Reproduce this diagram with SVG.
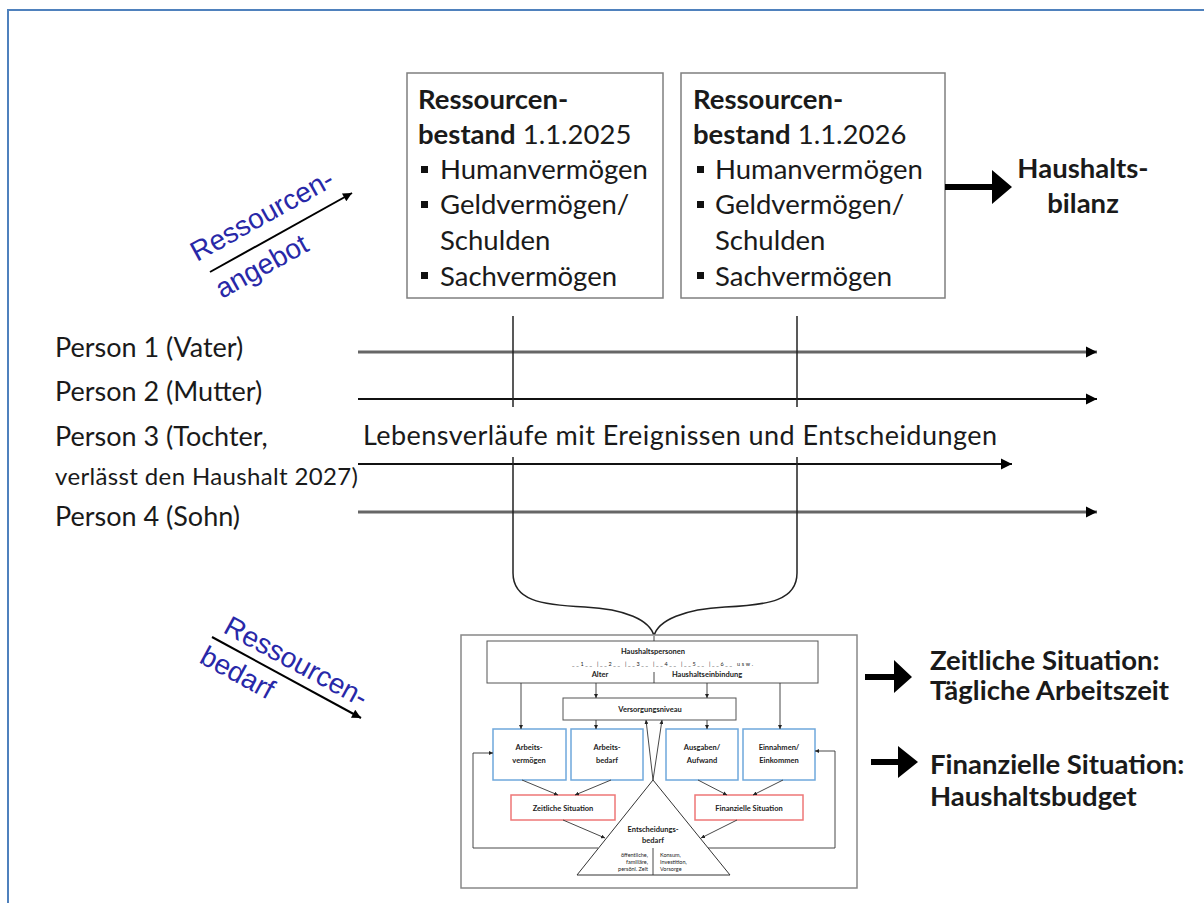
<svg xmlns="http://www.w3.org/2000/svg" width="1204" height="903" viewBox="0 0 1204 903">
<style>
.t{font-family:Lato,"Open Sans",sans-serif;fill:#1a1a1a;}
.b{font-weight:bold;}
.box{fill:#fff;stroke:#7f7f7f;stroke-width:1.5;}
.blue{font-family:"Liberation Sans",Arial,sans-serif;fill:#2828a8;font-size:28px;}
.lifeA{stroke:#666;stroke-width:3;fill:none;}
.lifeB{stroke:#111;stroke-width:2;fill:none;}
.vl{stroke:#222;stroke-width:1.5;fill:none;}
.sm{font-family:Lato,"Open Sans",sans-serif;font-weight:bold;font-size:7.5px;fill:#222;text-anchor:middle;}
.xs{font-family:Lato,"Open Sans",sans-serif;font-size:5.5px;fill:#222;}
.ib{fill:#fff;stroke:#555;stroke-width:1;}
.bb{fill:#fff;stroke:#6fa8dc;stroke-width:1.5;}
.rb{fill:#fff;stroke:#ee7777;stroke-width:1.5;}
.il{stroke:#333;stroke-width:0.9;fill:none;}
.thick{fill:#000;}
</style>
<defs>
<marker id="ah" viewBox="0 0 10 10" refX="10" refY="5" markerUnits="userSpaceOnUse" markerWidth="11" markerHeight="12" orient="auto"><path d="M0,0 L10,5 L0,10 z" fill="#000"/></marker>
<marker id="ahs" viewBox="0 0 10 10" refX="10" refY="5" markerUnits="userSpaceOnUse" markerWidth="4" markerHeight="4" orient="auto"><path d="M0,0 L10,5 L0,10 z" fill="#222"/></marker>
<marker id="ahm" viewBox="0 0 10 10" refX="10" refY="5" markerUnits="userSpaceOnUse" markerWidth="11" markerHeight="9" orient="auto"><path d="M0,0 L10,5 L0,10 z" fill="#000"/></marker>
</defs>
<rect x="0" y="0" width="1204" height="903" fill="#fff"/>
<rect x="8" y="10" width="1230" height="930" fill="none" stroke="#4f81bd" stroke-width="2"/>

<g id="box2025">
<rect class="box" x="407" y="73" width="256" height="225"/>
<text class="t" font-size="27.5"><tspan class="b" x="418" y="109">Ressourcen-</tspan><tspan class="b" x="418" y="144">bestand</tspan><tspan> 1.1.2025</tspan></text>
<g fill="#111"><rect x="421" y="166" width="7" height="7"/><rect x="421" y="201" width="7" height="7"/><rect x="421" y="272" width="7" height="7"/></g>
<text class="t" font-size="27.5"><tspan x="440" y="179">Humanvermögen</tspan><tspan x="440" y="214">Geldvermögen/</tspan><tspan x="440" y="250">Schulden</tspan><tspan x="440" y="286">Sachvermögen</tspan></text>
</g>

<g id="box2026">
<rect class="box" x="681" y="73" width="264" height="225"/>
<text class="t" font-size="27.5"><tspan class="b" x="693" y="109">Ressourcen-</tspan><tspan class="b" x="693" y="144">bestand</tspan><tspan>  1.1.2026</tspan></text>
<g fill="#111"><rect x="697" y="166" width="7" height="7"/><rect x="697" y="201" width="7" height="7"/><rect x="697" y="272" width="7" height="7"/></g>
<text class="t" font-size="27.5"><tspan x="715" y="179">Humanvermögen</tspan><tspan x="715" y="214">Geldvermögen/</tspan><tspan x="715" y="250">Schulden</tspan><tspan x="715" y="286">Sachvermögen</tspan></text>
</g>

<g id="bilanz">
<path class="thick" d="M945,184 L992,184 L992,170 L1012,187 L992,204 L992,190 L945,190 z"/>
<text class="t b" font-size="27.5" text-anchor="middle"><tspan x="1083" y="178">Haushalts-</tspan><tspan x="1083" y="213">bilanz</tspan></text>
</g>

<g id="angebot">
<line x1="210" y1="272" x2="352" y2="193" stroke="#000" stroke-width="2" marker-end="url(#ahm)"/>
<text class="blue" transform="translate(197,262) rotate(-29)">Ressourcen-</text>
<text class="blue" transform="translate(222,299) rotate(-29)">angebot</text>
</g>

<g id="bedarf">
<line x1="212" y1="637" x2="361" y2="718" stroke="#000" stroke-width="2" marker-end="url(#ahm)"/>
<text class="blue" transform="translate(222,632) rotate(28.5)">Ressourcen-</text>
<text class="blue" transform="translate(198,662) rotate(28.5)">bedarf</text>
</g>

<g id="persons">
<text class="t" font-size="27" x="55" y="357">Person 1 (Vater)</text>
<text class="t" font-size="27" x="55" y="401">Person 2 (Mutter)</text>
<text class="t" font-size="27" x="55" y="446">Person 3 (Tochter,</text>
<text class="t" font-size="24" x="55" y="485" textLength="303">verlässt den Haushalt 2027)</text>
<text class="t" font-size="27" x="55" y="526">Person 4 (Sohn)</text>
<text class="t" font-size="27" x="363" y="445" textLength="634">Lebensverläufe mit Ereignissen und Entscheidungen</text>
</g>

<g id="connectors">
<line class="lifeA" x1="358" y1="352" x2="1097" y2="352" marker-end="url(#ah)"/>
<line class="lifeB" x1="358" y1="399" x2="1097" y2="399" marker-end="url(#ah)"/>
<line class="lifeB" x1="358" y1="464" x2="1012" y2="464" marker-end="url(#ah)"/>
<line class="lifeA" x1="358" y1="512" x2="1097" y2="512" marker-end="url(#ah)"/>
<line class="vl" x1="513" y1="316" x2="513" y2="407"/>
<line class="vl" x1="797" y1="316" x2="797" y2="407"/>
<path class="vl" d="M513,457 L513,573 C513,600 540,605 585,607 C625,609 650,620 654,636"/>
<path class="vl" d="M797,457 L797,573 C797,600 770,605 725,607 C685,609 658,620 654,636"/>
</g>

<g id="situation-arrows">
<path class="thick" d="M865,674 L894,674 L894,660 L912,677 L894,693 L894,680 L865,680 z"/>
<path class="thick" d="M871,759 L898,759 L898,746 L918,762 L898,778 L898,765 L871,765 z"/>
<text class="t b" font-size="27.5"><tspan x="930" y="670">Zeitliche Situation:</tspan><tspan x="930" y="700">Tägliche Arbeitszeit</tspan></text>
<text class="t b" font-size="27.5"><tspan x="930" y="774">Finanzielle Situation:</tspan><tspan x="930" y="806">Haushaltsbudget</tspan></text>
</g>

<g id="inner-diagram">
<rect x="461" y="635" width="396" height="253" fill="#fff" stroke="#888" stroke-width="1.5"/>
<g id="haushaltspersonen">
<rect class="ib" x="487" y="641" width="331" height="42"/>
<text class="sm" x="653" y="654">Haushaltspersonen</text>
<text class="xs" x="572" y="666" textLength="181">__1__ |__2__ |__3__ |__4__ |__5__ |__6__ usw.</text>
<text class="sm" x="600" y="677" font-size="6.5">Alter</text>
<text class="sm" x="707" y="677" font-size="6.5">Haushaltseinbindung</text>
<line class="il" x1="654" y1="672" x2="654" y2="683"/>
</g>
<g id="versorgungsniveau">
<rect class="ib" x="563" y="698" width="173" height="22"/>
<text class="sm" x="650" y="712">Versorgungsniveau</text>
</g>
<g id="arbeitsvermoegen"><rect class="bb" x="493" y="729" width="73" height="51"/><text class="sm"><tspan x="529" y="750">Arbeits-</tspan><tspan x="529" y="763">vermögen</tspan></text></g>
<g id="arbeitsbedarf"><rect class="bb" x="571" y="729" width="72" height="51"/><text class="sm"><tspan x="607" y="750">Arbeits-</tspan><tspan x="607" y="763">bedarf</tspan></text></g>
<g id="ausgaben"><rect class="bb" x="666" y="729" width="72" height="51"/><text class="sm"><tspan x="702" y="750">Ausgaben/</tspan><tspan x="702" y="763">Aufwand</tspan></text></g>
<g id="einnahmen"><rect class="bb" x="743" y="729" width="72" height="51"/><text class="sm"><tspan x="779" y="750">Einnahmen/</tspan><tspan x="779" y="763">Einkommen</tspan></text></g>
<g id="zeitliche"><rect class="rb" x="511" y="795" width="104" height="25"/><text class="sm" x="563" y="811">Zeitliche Situation</text></g>
<g id="finanzielle"><rect class="rb" x="695" y="795" width="108" height="25"/><text class="sm" x="749" y="811">Finanzielle Situation</text></g>
<g id="entscheidung">
<path d="M653,780 L730,875 L577,875 z" fill="#fff" stroke="#333" stroke-width="1"/>
<text class="sm"><tspan x="653" y="832">Entscheidungs-</tspan><tspan x="653" y="843">bedarf</tspan></text>
<line class="il" x1="653" y1="848" x2="653" y2="875"/>
<text class="xs" text-anchor="end"><tspan x="648" y="857">öffentliche,</tspan><tspan x="648" y="864">familiäre,</tspan><tspan x="648" y="871">persönl. Zeit</tspan></text>
<text class="xs"><tspan x="660" y="857">Konsum,</tspan><tspan x="660" y="864">Investition,</tspan><tspan x="660" y="871">Vorsorge</tspan></text>
</g>
<g id="inner-connectors">
<line class="il" x1="521" y1="683" x2="521" y2="729" marker-end="url(#ahs)"/>
<line class="il" x1="596" y1="683" x2="596" y2="698" marker-end="url(#ahs)"/>
<line class="il" x1="707" y1="683" x2="707" y2="698" marker-end="url(#ahs)"/>
<line class="il" x1="780" y1="683" x2="780" y2="729" marker-end="url(#ahs)"/>
<line class="il" x1="596" y1="720" x2="596" y2="729" marker-end="url(#ahs)"/>
<line class="il" x1="707" y1="720" x2="707" y2="729" marker-end="url(#ahs)"/>
<line class="il" x1="653" y1="780" x2="646" y2="720" marker-end="url(#ahs)"/>
<line class="il" x1="653" y1="780" x2="662" y2="720" marker-end="url(#ahs)"/>
<line class="il" x1="522" y1="780" x2="558" y2="795" marker-end="url(#ahs)"/>
<line class="il" x1="611" y1="780" x2="575" y2="795" marker-end="url(#ahs)"/>
<line class="il" x1="698" y1="780" x2="727" y2="795" marker-end="url(#ahs)"/>
<line class="il" x1="783" y1="780" x2="753" y2="795" marker-end="url(#ahs)"/>
<line class="il" x1="563" y1="820" x2="605" y2="838" marker-end="url(#ahs)"/>
<line class="il" x1="737" y1="820" x2="701" y2="838" marker-end="url(#ahs)"/>
<polyline class="il" points="598,848 473,848 473,753 493,753" marker-end="url(#ahs)"/>
<polyline class="il" points="708,848 835,848 835,751 815,751" marker-end="url(#ahs)"/>
<line class="il" x1="654" y1="636" x2="654" y2="641"/>
</g>
</g>
</svg>
